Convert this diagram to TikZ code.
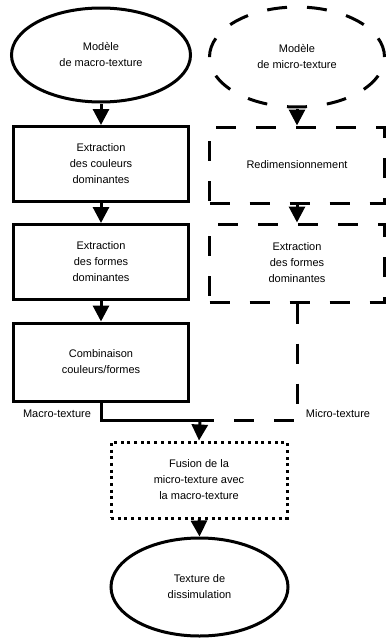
\documentclass[tikz,border=0pt]{standalone}
\usepackage{fontspec}
\setmainfont{Liberation Sans}
\usetikzlibrary{shapes.geometric,arrows.meta}
\begin{document}
\begin{tikzpicture}[x=1pt,y=-1pt,
  every node/.style={font=\fontsize{11}{16}\selectfont, align=center, inner sep=0pt},
  solidbox/.style={draw, line width=3pt, rectangle, minimum width=175pt},
  dashbox/.style={draw, line width=3pt, rectangle, minimum width=175pt, dash pattern=on 20pt off 20pt},
  dotbox/.style={draw, line width=3pt, rectangle, dash pattern=on 3pt off 3.7pt},
  ellsolid/.style={draw, line width=3pt, ellipse},
  elldash/.style={draw, line width=3pt, ellipse, dash pattern=on 20pt off 20pt},
  arr/.style={line width=3pt, -{Triangle[length=16pt,width=16pt]}},
  linksolid/.style={line width=3pt},
  linkdash/.style={line width=3pt, dash pattern=on 20pt off 20pt},
]
\useasboundingbox (0,0) rectangle (389,640);

\node[ellsolid, minimum width=179pt, minimum height=94pt] (e1) at (101,55) {Modèle\\de macro-texture};
\node[elldash, minimum width=175pt, minimum height=100pt] (e2) at (297,57) {Modèle\\de micro-texture};

\node[solidbox, minimum height=75pt] (b1) at (101,164) {Extraction\\des couleurs\\dominantes};
\node[dashbox, minimum height=76pt] (r1) at (297,165) {Redimensionnement};

\node[solidbox, minimum height=75pt] (b2) at (101,262) {Extraction\\des formes\\dominantes};
\node[dashbox, minimum height=78pt] (r2) at (297,263) {Extraction\\des formes\\dominantes};

\node[solidbox, minimum height=78pt] (b3) at (101,362) {Combinaison\\couleurs/formes};

\node[dotbox, minimum width=176pt, minimum height=76pt] (f) at (199,480) {Fusion de la\\micro-texture avec\\la macro-texture};
\node[ellsolid, minimum width=177pt, minimum height=98pt] (e3) at (199.5,587) {Texture de\\dissimulation};

\node (lmac) at (57,414) {Macro-texture};
\node (lmic) at (338,414) {Micro-texture};

\coordinate (j) at (200,420);
\coordinate (cl) at (101,420);
\coordinate (cr) at (297,420);

\draw[arr] (e1.south) -- (b1.north);
\draw[arr] (e2.south) -- (r1.north);
\draw[arr] (b1.south) -- (b2.north);
\draw[arr] (r1.south) -- (r2.north);
\draw[arr] (b2.south) -- (b3.north);

\draw[linksolid] (b3.south) -- (cl) -- (j);
\draw[linkdash] (r2.south) -- (cr) -- (j);
\draw[arr] (j) -- (f.north);
\draw[arr] (f.south) -- (e3.north);
\end{tikzpicture}
\end{document}
